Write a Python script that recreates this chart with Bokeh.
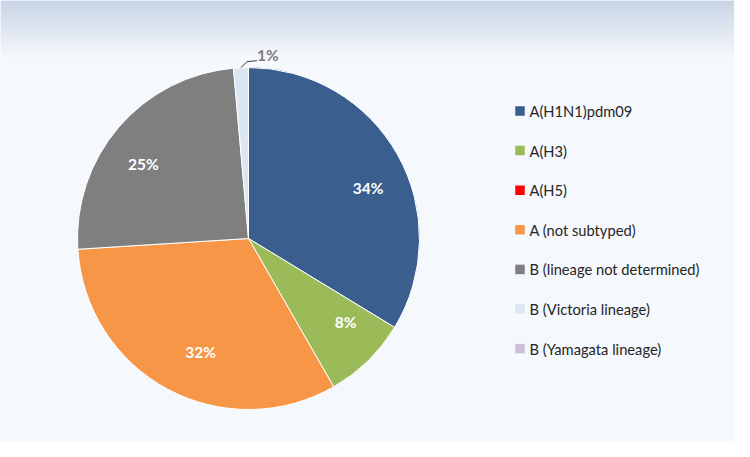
import math
import numpy as np
from bokeh.plotting import figure
from bokeh.models import Range1d, ColumnDataSource
from bokeh.core.properties import value
from bokeh.embed import file_html
from bokeh.resources import INLINE

# ---- data ----
categories = ["A(H1N1)pdm09", "A(H3)", "A(H5)", "A (not subtyped)",
              "B (lineage not determined)", "B (Victoria lineage)", "B (Yamagata lineage)"]
shares = [33.7, 8.0, 0.0, 32.3, 24.6, 1.4, 0.0]
colors = ["#3A5F8F", "#9BBB59", "#FF0000", "#F79646", "#7F7F7F", "#DCE6F2", "#CCC0DA"]

# ---- styling / layout (data coords = page pixels, y = 457 - page_y) ----
label_angle_nudge = [6.3, -5.1, 0, -5.3, -5.2, 0, 0]     # degrees, label placement
label_radius = [130, 128, 128, 123, 129, 0, 0]
W, H = 734, 441
X0, YTOP = 0, 457
CX, CY, R = 248, 457 - 238, 171
FONT = "Lato"
BG = "#F5F8FC"

p = figure(width=W, height=H, output_backend="svg", toolbar_location=None,
           x_range=Range1d(X0, X0 + W), y_range=Range1d(YTOP - H, YTOP),
           x_axis_type=None, y_axis_type=None, min_border=0)
p.grid.visible = False
p.outline_line_color = None
p.background_fill_color = BG
p.border_fill_color = BG

# top gradient band (decoration)
GH = 58
top = np.array([0xC9, 0xD5, 0xE7], dtype=float)
bot = np.array([0xF5, 0xF8, 0xFC], dtype=float)
t = np.linspace(0, 1, GH)[:, None]       # row 0 = bottom of band
rgb = bot * (1 - t) + top * t
img = np.zeros((GH, 2), dtype=np.uint32)
view = img.view(dtype=np.uint8).reshape((GH, 2, 4))
view[:, :, 0] = rgb[:, 0:1].round()
view[:, :, 1] = rgb[:, 1:2].round()
view[:, :, 2] = rgb[:, 2:3].round()
view[:, :, 3] = 255
p.image_rgba(image=[img], x=X0, y=YTOP - GH, dw=W + 20, dh=GH)

total = sum(shares)
starts, ends, cols = [], [], []
lx, ly, lt = [], [], []
ox, oy, ot, leader_x, leader_y = [], [], [], [], []
cum = 0.0
for i, (s, c) in enumerate(zip(shares, colors)):
    a0 = cum / total
    cum += s
    a1 = cum / total
    if s <= 0:
        continue
    starts.append(math.pi / 2 - 2 * math.pi * a0)
    ends.append(math.pi / 2 - 2 * math.pi * a1)
    cols.append(c)
    m = (a0 + a1) / 2
    txt = f"{int(s + 0.5)}%"
    if s >= 5:
        ang = 2 * math.pi * m + math.radians(label_angle_nudge[i])
        r = label_radius[i]
        lx.append(CX + r * math.sin(ang))
        ly.append(CY + r * math.cos(ang))
        lt.append(txt)
    else:
        ang = 2 * math.pi * m
        x0 = CX + R * math.sin(ang)
        y0 = CY + R * math.cos(ang)
        leader_x.append([x0, x0 + 6, x0 + 16])
        leader_y.append([y0, y0 + 6, y0 + 7])
        ox.append(x0 + 16)
        oy.append(y0 + 13)
        ot.append(txt)

src = ColumnDataSource(dict(x=[CX] * len(cols), y=[CY] * len(cols), s=starts, e=ends, c=cols))
p.wedge(x="x", y="y", radius=R, start_angle="s", end_angle="e", direction="clock",
        fill_color="c", line_color="white", line_width=1, source=src)

p.text(x=lx, y=ly, text=lt, text_color="white", text_font=value(FONT),
       text_font_style="bold", text_font_size="15.5px", text_align="center",
       text_baseline="middle")
p.multi_line(xs=leader_x, ys=leader_y, line_color="#404040", line_width=1)
p.text(x=ox, y=oy, text=ot, text_color="#7F7F7F", text_font=value(FONT),
       text_font_style="bold", text_font_size="15.5px", text_align="left",
       text_baseline="middle")

# legend
LX, LY0, LDY = 519.5, 457 - 110.5, 39.6
leg_y = [LY0 - i * LDY for i in range(len(categories))]
p.scatter(x=[LX] * len(categories), y=leg_y, marker="square", size=9.5,
          fill_color=colors, line_color=None)
p.text(x=[LX + 9.5] * len(categories), y=leg_y, text=categories, text_color="#262626",
       text_font=value(FONT), text_font_size="14.7px", text_align="left",
       text_baseline="middle")

open("out.html", "w").write(file_html(p, INLINE))
